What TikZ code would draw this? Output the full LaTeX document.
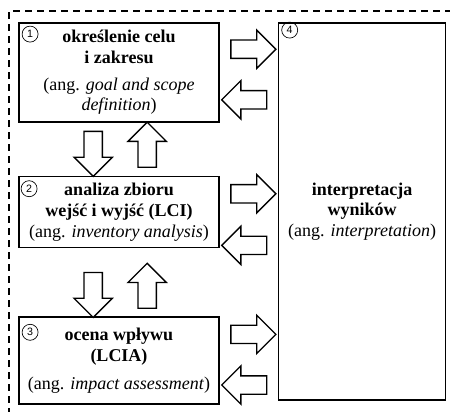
\documentclass[tikz,border=0pt]{standalone}
\usepackage{fontspec}
\setmainfont{Liberation Serif}
\setsansfont{Liberation Sans}
\usepackage{tikz}
\usetikzlibrary{positioning,calc,shapes.arrows}
\tikzset{
  stage/.style={draw, line width=1.2pt, minimum width=150pt, align=center, inner sep=2pt, font=\fontsize{13.5}{15.5}\selectfont},
  num/.style={circle, draw, line width=0.5pt, minimum size=12pt, inner sep=0pt, font=\sffamily\fontsize{8}{8}\selectfont},
  blk/.style={single arrow, draw, line width=1pt, fill=white, minimum height=33.75pt, inner xsep=0pt, inner ysep=6.375pt, single arrow head extend=7.5pt, single arrow head indent=0pt},
  rarr/.style={blk},
  larr/.style={blk, rotate=180},
  darr/.style={blk, rotate=-90},
  uarr/.style={blk, rotate=90},
  frame/.style={dash pattern=on 5pt off 4pt, line width=1.1pt},
}
\begin{document}
\begin{tikzpicture}
\clip (0,0) rectangle (337.5pt,-308.25pt);
\draw[frame] (6.75pt,-320pt) -- (6.75pt,-8.25pt) -- (345pt,-8.25pt);
\node[stage, minimum height=74.25pt] (goal) at (89.25pt,-54.375pt) {\textbf{określenie celu}\\\textbf{i zakresu}\\[4.5pt](ang. \textit{goal and scope}\\\textit{definition})};
\node[stage, minimum height=53.25pt, below=39.75pt of goal] (lci) {\textbf{analiza zbioru}\\\textbf{wejść i wyjść (LCI)}\\(ang. \textit{inventory analysis})};
\node[stage, minimum height=65.25pt, below=51pt of lci] (lcia) {\textbf{ocena wpływu}\\\textbf{(LCIA)}\\[6pt](ang. \textit{impact assessment})};
\node[stage, minimum width=125.25pt, minimum height=282.75pt, right=43.5pt of goal.north east, anchor=north west] (interp) {\textbf{interpretacja}\\\textbf{wyników}\\(ang. \textit{interpretation})};
\node[num, below right=4.5pt and 4.5pt of goal.north west] (n1) {1};
\node[num, below right=5.25pt and 3.75pt of lci.north west] (n2) {2};
\node[num, below right=7.5pt and 4.5pt of lcia.north west] (n3) {3};
\node[num, below right=1.5pt and 4.5pt of interp.north west] (n4) {4};
\coordinate (gap) at ($(goal.east)!.5!(goal.east -| interp.west)$);
\node[rarr] (r1) at ($(gap |- goal.north)+(0,-20.25pt)$) {};
\node[larr] (l1) at ($(gap |- goal.south)+(0,17.25pt)$) {};
\node[rarr] (r2) at ($(gap |- lci.north)+(0,-13.5pt)$) {};
\node[larr] (l2) at ($(gap |- lci.south)+(0,2.25pt)$) {};
\node[rarr] (r3) at ($(gap |- lcia.north)+(0,-13.5pt)$) {};
\node[larr] (l3) at ($(gap |- lcia.south)+(0,15pt)$) {};
\node[darr] (d1) at ($(goal.south west)!.5!(lci.north west)+(56.25pt,0)$) {};
\node[uarr] (u1) at ($(goal.south west)!.5!(lci.north west)+(96.75pt,0)$) {};
\node[darr] (d2) at ($(lci.south west)!.5!(lcia.north west)+(56.25pt,-6pt)$) {};
\node[uarr] (u2) at ($(lci.south west)!.5!(lcia.north west)+(96.75pt,-6pt)$) {};
\end{tikzpicture}
\end{document}
